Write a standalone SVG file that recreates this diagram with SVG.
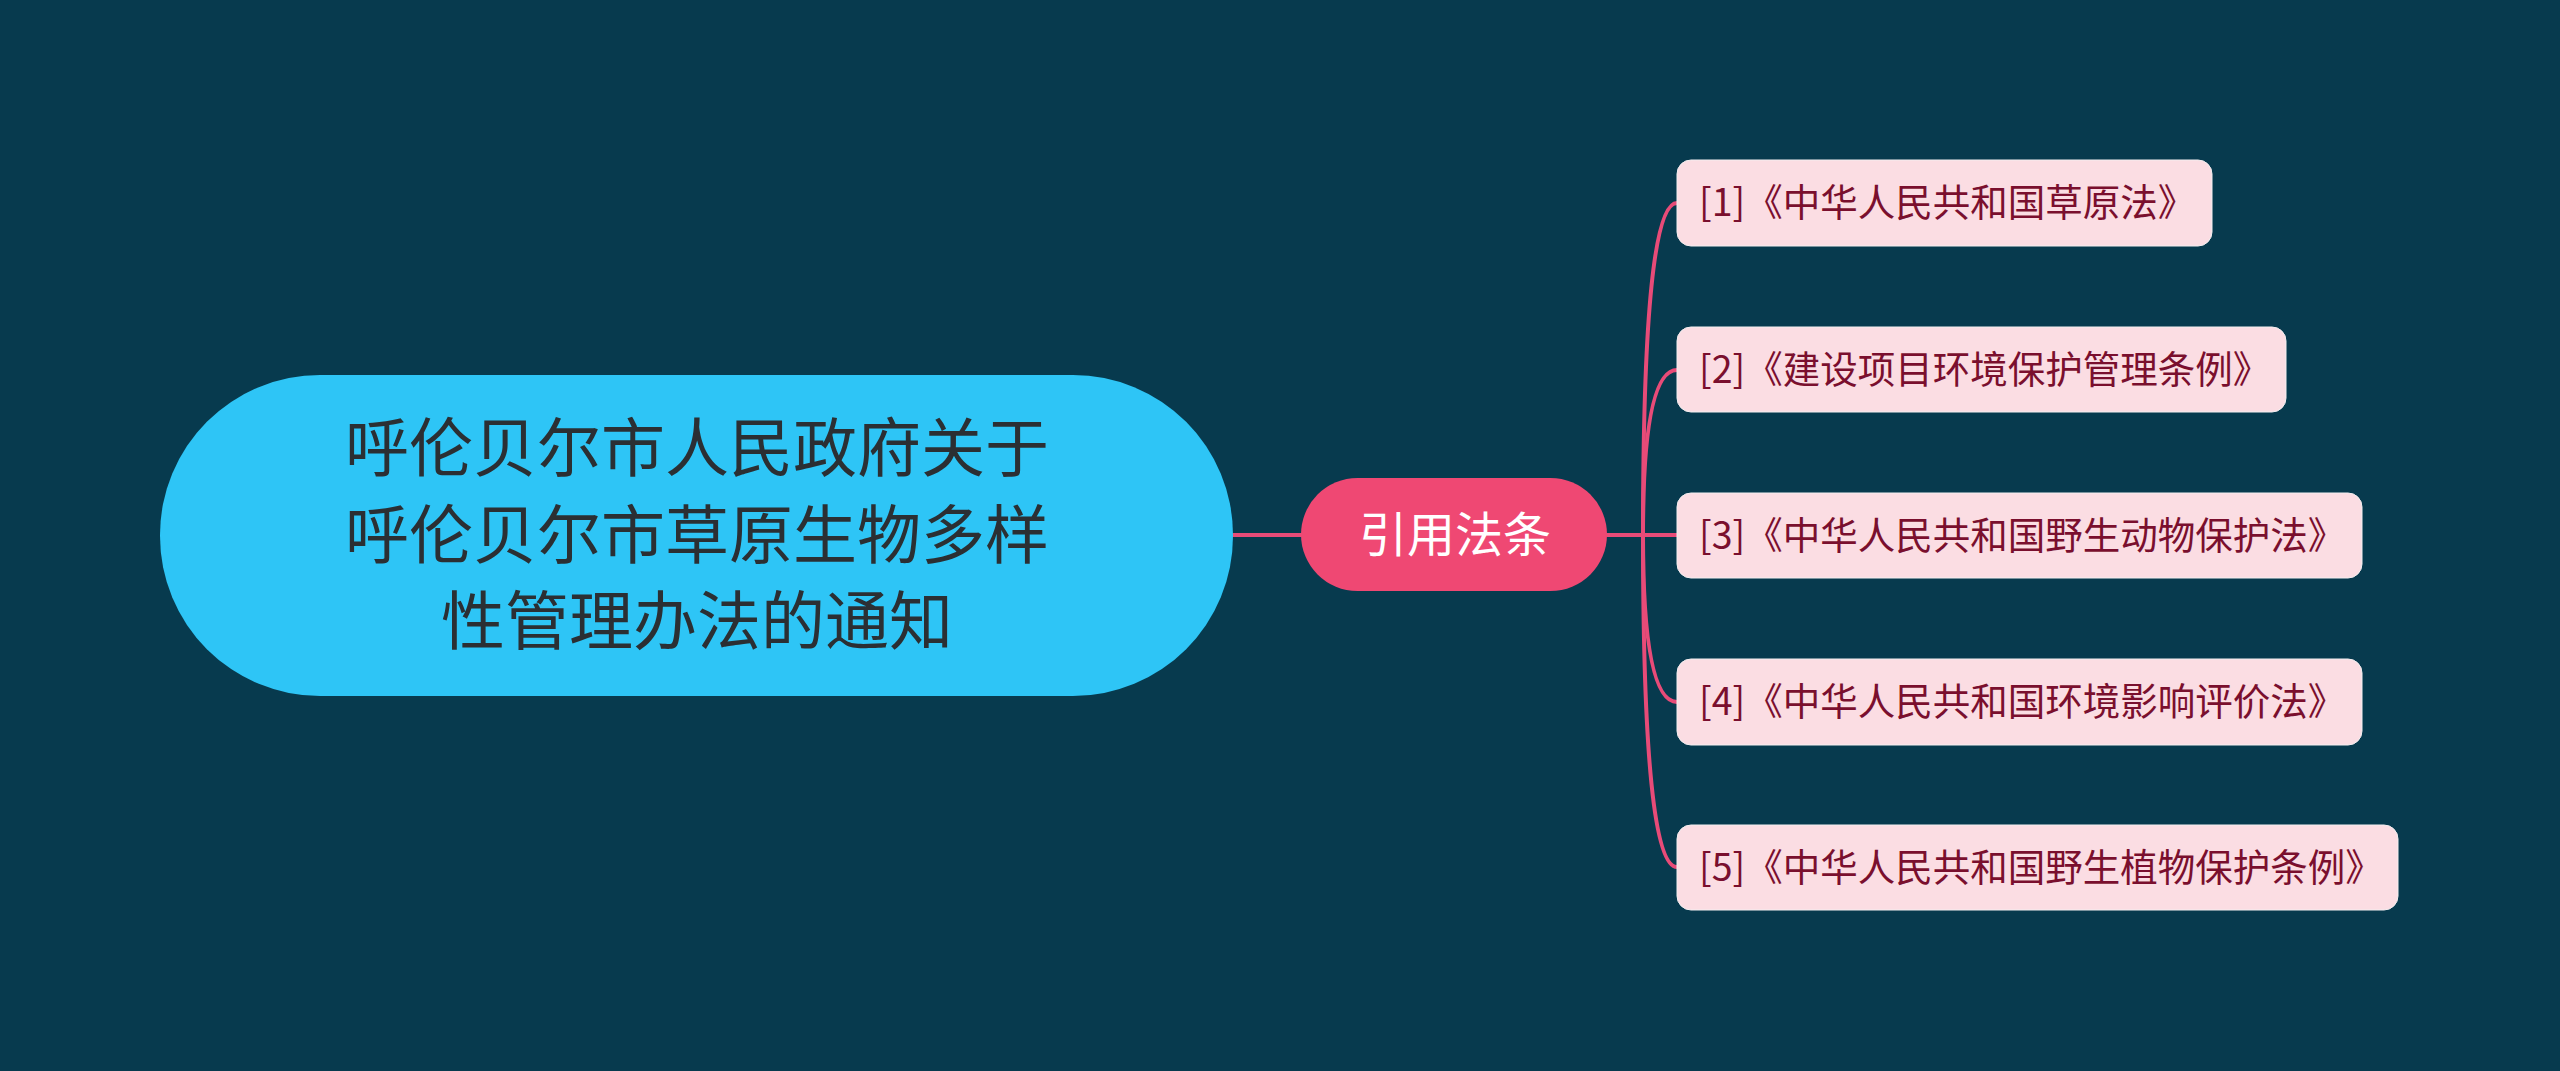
<svg xmlns="http://www.w3.org/2000/svg" width="2560" height="1071" viewBox="0 0 2560 1071">
<style>
.bg{fill:#073a4e}
.conn{fill:none;stroke:#e84b78;stroke-width:4;stroke-linecap:round}
.root{fill:#2ec5f6}
.rootText{font-family:"Noto Sans CJK SC","Noto Sans",sans-serif;font-size:64px;fill:#2b2f33;text-anchor:middle}
.mid{fill:#ef4873}
.midText{font-family:"Noto Sans CJK SC","Noto Sans",sans-serif;font-size:48px;fill:#ffffff;text-anchor:middle}
.leaf{fill:#fbdde3;stroke:#f3eef0;stroke-width:1}
.leafText{font-family:"Noto Sans CJK SC","Noto Sans",sans-serif;font-size:37.5px;fill:#7a0f2e}
</style>
<rect class="bg" x="0" y="0" width="2560" height="1071"/>
<g id="connectors">
<path class="conn" d="M1233,535 H1301"/>
<path class="conn" d="M1607,535 H1643 Q1643,203 1677,203"/>
<path class="conn" d="M1643,535 Q1643,370 1677,370"/>
<path class="conn" d="M1643,535 H1677"/>
<path class="conn" d="M1643,535 Q1643,702 1677,702"/>
<path class="conn" d="M1643,535 Q1643,867 1677,867"/>
</g>
<g id="root">
<rect class="root" x="160" y="375" width="1073" height="321" rx="160" ry="160"/>
<text class="rootText" x="697" y="471">呼伦贝尔市人民政府关于</text>
<text class="rootText" x="697" y="558">呼伦贝尔市草原生物多样</text>
<text class="rootText" x="697" y="644">性管理办法的通知</text>
</g>
<g id="mid">
<rect class="mid" x="1301" y="478" width="306" height="113" rx="56.5" ry="56.5"/>
<text class="midText" x="1455" y="552">引用法条</text>
</g>
<g id="leaf1">
<rect class="leaf" x="1677" y="160" width="535" height="86" rx="14" ry="14"/>
<text class="leafText" x="1699" y="216">[1]《中华人民共和国草原法》</text>
</g>
<g id="leaf2">
<rect class="leaf" x="1677" y="327" width="609" height="85" rx="14" ry="14"/>
<text class="leafText" x="1699" y="383">[2]《建设项目环境保护管理条例》</text>
</g>
<g id="leaf3">
<rect class="leaf" x="1677" y="493" width="685" height="85" rx="14" ry="14"/>
<text class="leafText" x="1699" y="549">[3]《中华人民共和国野生动物保护法》</text>
</g>
<g id="leaf4">
<rect class="leaf" x="1677" y="659" width="685" height="86" rx="14" ry="14"/>
<text class="leafText" x="1699" y="715">[4]《中华人民共和国环境影响评价法》</text>
</g>
<g id="leaf5">
<rect class="leaf" x="1677" y="825" width="721" height="85" rx="14" ry="14"/>
<text class="leafText" x="1699" y="881">[5]《中华人民共和国野生植物保护条例》</text>
</g>
</svg>
